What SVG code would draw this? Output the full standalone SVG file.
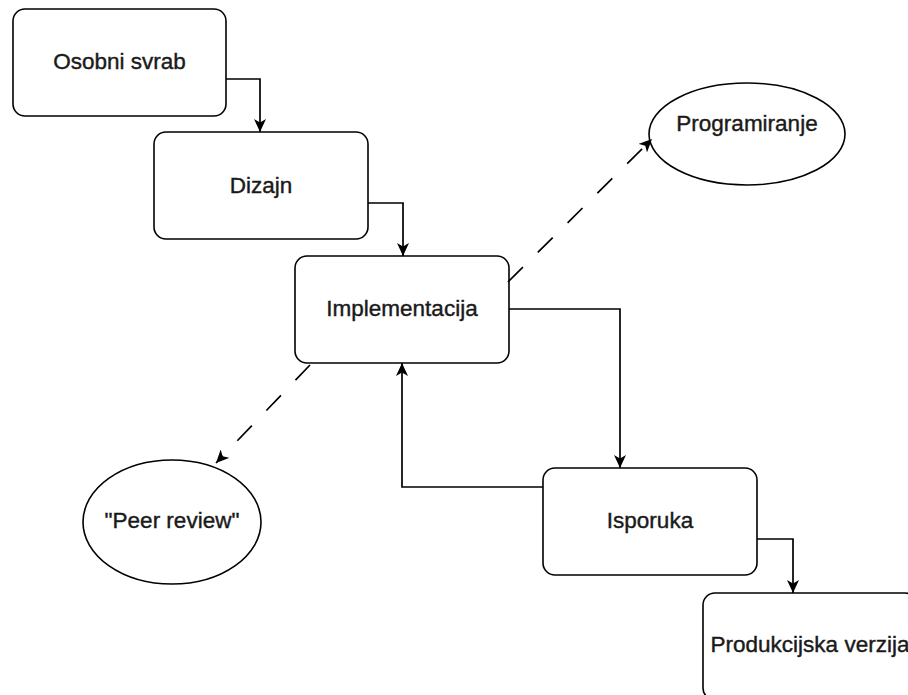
<svg xmlns="http://www.w3.org/2000/svg" width="908" height="695" viewBox="0 0 908 695">
  <style>
    .box { fill: #ffffff; stroke: #000000; stroke-width: 1.6; }
    .lbl { font-family: "Liberation Sans", Arial, sans-serif; font-size: 22.5px; fill: #1a1a1a; stroke: #1a1a1a; stroke-width: 0.4; text-anchor: middle; }
    .edge { fill: none; stroke: #000000; stroke-width: 1.7; }
    .dash { stroke-dasharray: 21 21; }
  </style>
  <defs>
    <marker id="arr" markerWidth="14" markerHeight="12" refX="13" refY="6" orient="auto" markerUnits="userSpaceOnUse">
      <path d="M0,0 L13,6 L0,12 L3.5,6 Z" fill="#000000"/>
    </marker>
  </defs>
  <rect width="908" height="695" fill="#ffffff"/>

  <g id="node-osobni-svrab">
    <rect class="box" x="13" y="9" width="213" height="107" rx="12"/>
    <text class="lbl" x="119.5" y="69">Osobni svrab</text>
  </g>
  <g id="node-dizajn">
    <rect class="box" x="154" y="132" width="214" height="107" rx="12"/>
    <text class="lbl" x="261" y="192.5">Dizajn</text>
  </g>
  <g id="node-implementacija">
    <rect class="box" x="295" y="256" width="214" height="107" rx="12"/>
    <text class="lbl" x="402" y="316">Implementacija</text>
  </g>
  <g id="node-programiranje">
    <ellipse class="box" cx="747" cy="134" rx="98" ry="51"/>
    <text class="lbl" x="747" y="131">Programiranje</text>
  </g>
  <g id="node-peer-review">
    <ellipse class="box" cx="172" cy="522" rx="89" ry="62"/>
    <text class="lbl" x="172" y="528">"Peer review"</text>
  </g>
  <g id="node-isporuka">
    <rect class="box" x="543" y="468" width="214" height="107" rx="12"/>
    <text class="lbl" x="650" y="528">Isporuka</text>
  </g>
  <g id="node-produkcijska-verzija">
    <rect class="box" x="703" y="593" width="214" height="107" rx="12"/>
    <text class="lbl" x="810" y="652">Produkcijska verzija</text>
  </g>

  <g id="connectors">
    <path class="edge" d="M226,79 H260 V132" marker-end="url(#arr)"/>
    <path class="edge" d="M368,203 H403 V256" marker-end="url(#arr)"/>
    <path class="edge" d="M509,309 H620 V468" marker-end="url(#arr)"/>
    <path class="edge" d="M543,487 H402 V363" marker-end="url(#arr)"/>
    <path class="edge" d="M757,539 H793 V593" marker-end="url(#arr)"/>
    <path class="edge dash" d="M508,282 L652,139" marker-end="url(#arr)"/>
    <path class="edge dash" d="M310,365 L216,463" marker-end="url(#arr)"/>
  </g>
</svg>
